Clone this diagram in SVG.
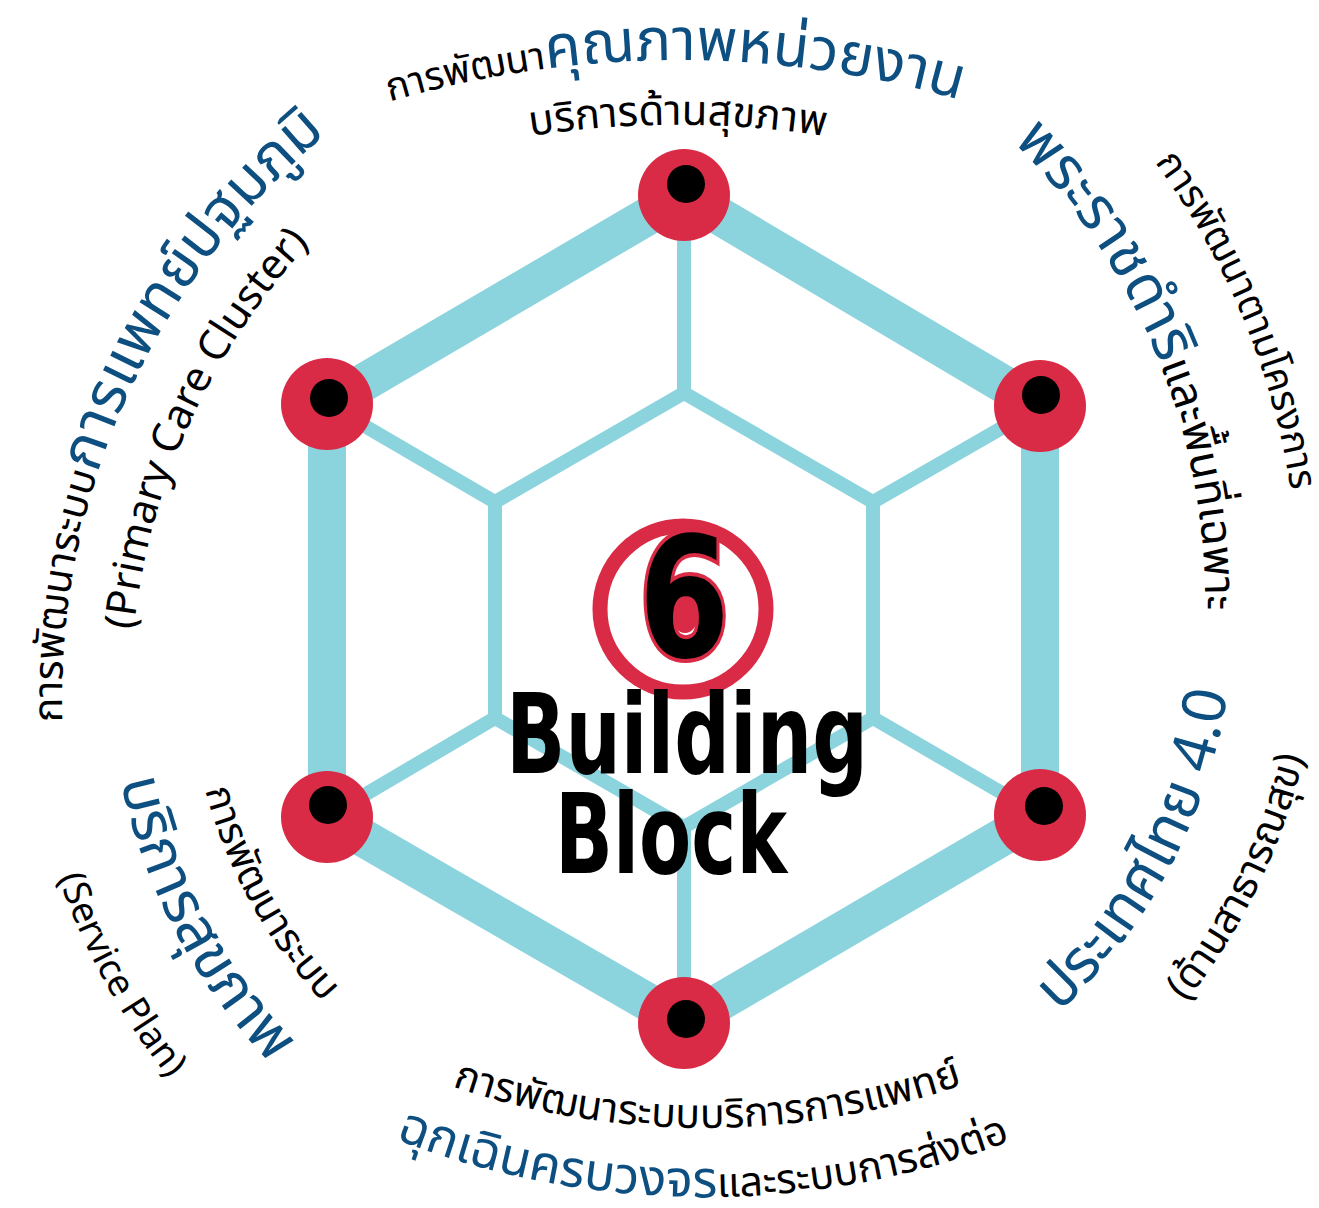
<svg xmlns="http://www.w3.org/2000/svg" width="1319" height="1208" viewBox="0 0 1319 1208">
<style>
.edge{fill:none;stroke:#8cd4dd;stroke-linecap:round;stroke-linejoin:round}
.outer{stroke-width:38}
.inner{stroke-width:14}
.node{fill:#d92b45}
.dot{fill:#000}
.th{font-family:"Noto Sans Thai","Noto Sans","DejaVu Sans",sans-serif}
.blk{fill:#000;font-size:41px}
.blu{fill:#0c4f80;font-size:60px}
.lat{font-family:"Noto Sans","Open Sans",sans-serif;fill:#000;font-size:37px}
.big{font-family:"DejaVu Sans",sans-serif;font-weight:bold;fill:#000}
</style>
<defs>
<path id="pTop1" d="M 389.8 101.6 A 1021 1021 0 0 1 1109.5 155.7"/>
<path id="pTop2" d="M 351 182.6 A 953 953 0 0 1 1005 182.6"/>
<path id="pR1" d="M 1013 142 A 642 642 0 0 1 1203.4 644.8"/>
<path id="pR2" d="M 1154.7 162.2 A 736 736 0 0 1 1299 600"/>
<path id="pLR1" d="M 1059 1012.3 A 550 550 0 0 0 1231.9 562.1"/>
<path id="pLR2" d="M 1186 1002.2 A 637 637 0 0 0 1321 610"/>
<path id="pB1" d="M 452.4 1086.4 A 788 788 0 0 0 1038 1054.2"/>
<path id="pB2" d="M 395 1139 A 857 857 0 0 0 1107.4 1096.7"/>
<path id="pLL1" d="M 205.1 789.9 A 502 502 0 0 0 439 1094.7"/>
<path id="pLL2" d="M 120.7 781 A 582 582 0 0 0 399 1164"/>
<path id="pLL3" d="M 58.4 877.5 A 668 668 0 0 0 356 1238.5"/>
<path id="pUL1" d="M 62.3 721.9 A 738 738 0 0 1 431 60.9"/>
<path id="pUL2" d="M 133.7 630 A 670 670 0 0 1 415.7 151.1"/>
</defs>
<rect width="1319" height="1208" fill="#fff"/>
<g id="connectors">
<polygon class="edge outer" points="684,195 1040,406 1040,815 684,1023 327,817 327,404"/>
<polygon class="edge inner" points="684,393 873,502 873,718 684,827 495,718 495,502"/>
<line class="edge inner" x1="684" y1="195" x2="684" y2="393"/>
<line class="edge inner" x1="1040" y1="406" x2="873" y2="502"/>
<line class="edge inner" x1="1040" y1="815" x2="873" y2="718"/>
<line class="edge inner" x1="684" y1="1023" x2="684" y2="827"/>
<line class="edge inner" x1="327" y1="817" x2="495" y2="718"/>
<line class="edge inner" x1="327" y1="404" x2="495" y2="502"/>
</g>
<g id="node-top"><circle class="node" cx="684" cy="195" r="46"/><circle class="dot" cx="686" cy="184" r="19"/></g>
<g id="node-ur"><circle class="node" cx="1040" cy="406" r="46"/><circle class="dot" cx="1041" cy="395" r="19"/></g>
<g id="node-lr"><circle class="node" cx="1040" cy="815" r="46"/><circle class="dot" cx="1044" cy="806" r="19"/></g>
<g id="node-bottom"><circle class="node" cx="684" cy="1023" r="46"/><circle class="dot" cx="686" cy="1019" r="19"/></g>
<g id="node-ll"><circle class="node" cx="327" cy="817" r="46"/><circle class="dot" cx="328" cy="805" r="19"/></g>
<g id="node-ul"><circle class="node" cx="327" cy="404" r="46"/><circle class="dot" cx="329" cy="398" r="19"/></g>
<g id="center">
<circle cx="683" cy="609" r="83" fill="none" stroke="#d92b45" stroke-width="15"/>
<ellipse cx="685" cy="616" rx="13" ry="17" fill="#d92b45"/>
<text class="big" transform="translate(684,657) scale(0.78,1)" text-anchor="middle" font-size="168" stroke="#d92b45" stroke-width="8" paint-order="stroke">6</text>
<text class="big" x="506" y="773" font-size="110" textLength="362" lengthAdjust="spacingAndGlyphs">Building</text>
<text class="big" x="555" y="873" font-size="110" textLength="232" lengthAdjust="spacingAndGlyphs">Block</text>
</g>
<g id="label-top">
<text class="th"><textPath href="#pTop1"><tspan class="blk" style="font-size:39px">การพัฒนา</tspan><tspan class="blu" style="font-size:59px">คุณภาพหน่วยงาน</tspan></textPath></text>
<text class="th blk" style="font-size:42px" text-anchor="middle"><textPath href="#pTop2" startOffset="50%">บริการด้านสุขภาพ</textPath></text>
</g>
<g id="label-ur">
<text class="th"><textPath href="#pR1"><tspan class="blu">พระราชดำริ</tspan><tspan class="blk" style="font-size:44px">และพื้นที่เฉพาะ</tspan></textPath></text>
<text class="th blk" style="font-size:39px"><textPath href="#pR2">การพัฒนาตามโครงการ</textPath></text>
</g>
<g id="label-lr">
<text class="th blu"><textPath href="#pLR1">ประเทศไทย 4.0</textPath></text>
<text class="th blk"><textPath href="#pLR2">(ด้านสาธารณสุข)</textPath></text>
</g>
<g id="label-bottom">
<text class="th blk"><textPath href="#pB1">การพัฒนาระบบบริการการแพทย์</textPath></text>
<text class="th"><textPath href="#pB2"><tspan class="blu" style="font-size:51px">ฉุกเฉินครบวงจร</tspan><tspan class="blk">และระบบการส่งต่อ</tspan></textPath></text>
</g>
<g id="label-ll">
<text class="th blk" style="font-size:40px"><textPath href="#pLL1">การพัฒนาระบบ</textPath></text>
<text class="th blu"><textPath href="#pLL2">บริการสุขภาพ</textPath></text>
<text class="lat"><textPath href="#pLL3">(Service Plan)</textPath></text>
</g>
<g id="label-ul">
<text class="th"><textPath href="#pUL1"><tspan class="blk">การพัฒนาระบบ</tspan><tspan class="blu">การแพทย์ปฐมภูมิ</tspan></textPath></text>
<text class="lat" style="font-size:42px"><textPath href="#pUL2">(Primary Care Cluster)</textPath></text>
</g>
</svg>
